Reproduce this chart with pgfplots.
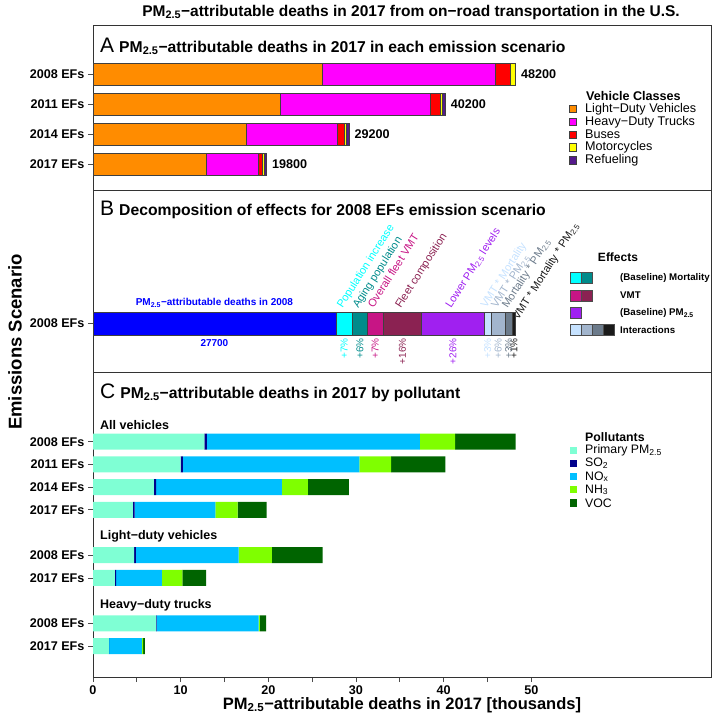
\documentclass[border=0pt]{standalone}
\usepackage{pgfplots}
\pgfplotsset{compat=1.18}
\usepackage{fontspec}
\setmainfont{Liberation Sans}
% panel A
\definecolor{cLDV}{HTML}{FF8C00}
\definecolor{cHDT}{HTML}{FF00FF}
\definecolor{cBus}{HTML}{FF0000}
\definecolor{cMoto}{HTML}{FFFF00}
\definecolor{cRef}{HTML}{551A8B}
% panel B
\definecolor{bBase}{HTML}{0000FF}
\definecolor{bPop}{HTML}{00FFFF}
\definecolor{bAge}{HTML}{008B8B}
\definecolor{bVMT}{HTML}{C71585}
\definecolor{bFleet}{HTML}{8B2252}
\definecolor{bPM}{HTML}{A020F0}
\definecolor{bI1}{HTML}{C6E2FF}
\definecolor{bI2}{HTML}{A2B5CD}
\definecolor{bI3}{HTML}{6C7B8B}
\definecolor{bI4}{HTML}{1A1A1A}
% panel C
\definecolor{pPrim}{HTML}{7FFFD4}
\definecolor{pSO}{HTML}{00008B}
\definecolor{pNO}{HTML}{00BFFF}
\definecolor{pNH}{HTML}{7FFF00}
\definecolor{pVOC}{HTML}{006400}
\newcommand{\fs}[1]{\fontsize{#1}{#1}\selectfont}
\tikzset{
  rl/.style={rotate=57.5, anchor=base west, inner sep=0pt, font=\fs{11}, text=#1},
  pl/.style={rotate=90, anchor=east, inner sep=0pt, font=\fs{10}, text=#1},
}
\begin{document}
\begin{tikzpicture}[x=1pt,y=1pt]
\useasboundingbox (0,0) rectangle (718,-716);
\pgfplotsset{
  myax/.style={
    scale only axis, width=618pt, xmin=0, xmax=70.5,
    y dir=reverse, anchor=north west,
    axis line style={black!80, line width=1pt},
    tick style={black!70, line width=0.8pt},
    tick align=outside, major tick length=5pt,
    ytick pos=left, xtick pos=bottom,
    yticklabel style={font=\fs{12.6}\bfseries},
    xticklabel style={font=\fs{12.6}\bfseries},
    /pgf/number format/assume math mode=true,
    xbar stacked,
    clip=false,
  },
  segA/.style={fill=#1, draw=black!75, line width=0.5pt},
  segC/.style={fill=#1, draw=none},
}
% ---------------- Panel A ----------------
\begin{axis}[myax, at={(93pt,-25pt)}, height=165pt, ymin=0, ymax=165,
  xtick=\empty, ytick={49,79,109,139},
  yticklabels={2008 EFs,2011 EFs,2014 EFs,2017 EFs}, bar width=22pt]
\addplot[segA=cLDV] coordinates {(26.2,49) (21.4,79) (17.5,109) (12.9,139)};
\addplot[segA=cHDT] coordinates {(19.7,49) (17.1,79) (10.4,109) (5.9,139)};
\addplot[segA=cBus] coordinates {(1.7,49) (1.1,79) (0.8,109) (0.5,139)};
\addplot[segA=cMoto] coordinates {(0.55,49) (0.25,79) (0.2,109) (0.2,139)};
\addplot[segA=cRef] coordinates {(0.05,49) (0.35,79) (0.3,109) (0.3,139)};
\node[anchor=west, font=\fs{12.6}\bfseries, xshift=2pt] at (axis cs:48.2,49) {48200};
\node[anchor=west, font=\fs{12.6}\bfseries, xshift=2pt] at (axis cs:40.2,79) {40200};
\node[anchor=west, font=\fs{12.6}\bfseries, xshift=2pt] at (axis cs:29.2,109) {29200};
\node[anchor=west, font=\fs{12.6}\bfseries, xshift=2pt] at (axis cs:19.8,139) {19800};
\end{axis}
% ---------------- Panel B ----------------
\begin{axis}[myax, at={(93pt,-190pt)}, height=182pt, ymin=0, ymax=182,
  xtick=\empty, ytick={133.5}, yticklabels={2008 EFs}, bar width=23pt]
\addplot[segA=bBase] coordinates {(27.7,133.5)};
\addplot[segA=bPop] coordinates {(1.9,133.5)};
\addplot[segA=bAge] coordinates {(1.7,133.5)};
\addplot[segA=bVMT] coordinates {(1.8,133.5)};
\addplot[segA=bFleet] coordinates {(4.4,133.5)};
\addplot[segA=bPM] coordinates {(7.1,133.5)};
\addplot[segA=bI1] coordinates {(0.85,133.5)};
\addplot[segA=bI2] coordinates {(1.55,133.5)};
\addplot[segA=bI3] coordinates {(0.85,133.5)};
\addplot[segA=bI4] coordinates {(0.35,133.5)};
\node[font=\fs{10}\bfseries, text=bBase] at (axis cs:13.85,113) {PM\textsubscript{2.5}−attributable deaths in 2008};
\node[font=\fs{10}\bfseries, text=bBase] at (axis cs:13.85,153) {27700};
\node[rl=bPop] at (axis cs:28.45,119) {Population increase};
\node[rl=bAge] at (axis cs:30.25,119) {Aging population};
\node[rl=bVMT] at (axis cs:32.0,119) {Overall fleet VMT};
\node[rl=bFleet] at (axis cs:35.1,119) {Fleet composition};
\node[rl=bPM] at (axis cs:40.85,119) {Lower PM\textsubscript{2.5} levels};
\node[rl=bI1] at (axis cs:44.85,119) {VMT * Mortality};
\node[rl=bI2] at (axis cs:46.05,119) {VMT * PM\textsubscript{2.5}};
\node[rl=bI3] at (axis cs:47.3,119) {Mortality * PM\textsubscript{2.5}};
\node[rl=bI4] at (axis cs:48.5,131) {VMT * Mortality * PM\textsubscript{2.5}};
\node[pl=bPop] at (axis cs:28.65,148) {+7\%};
\node[pl=bAge] at (axis cs:30.45,148) {+6\%};
\node[pl=bVMT] at (axis cs:32.2,148) {+7\%};
\node[pl=bFleet] at (axis cs:35.3,148) {+16\%};
\node[pl=bPM] at (axis cs:41.05,148) {+26\%};
\node[pl=bI1] at (axis cs:45.03,148) {+3\%};
\node[pl=bI2] at (axis cs:46.23,148) {+6\%};
\node[pl=bI3] at (axis cs:47.43,148) {+3\%};
\node[pl=bI4] at (axis cs:48.03,148) {+1\%};
\end{axis}
% ---------------- Panel C ----------------
\begin{axis}[myax, at={(93pt,-372pt)}, height=305pt, ymin=0, ymax=305,
  xtick={0,5,...,50}, xticklabels={0,,10,,20,,30,,40,,50},
  ytick={69.7,92.4,115.1,137.8,183.2,205.9,251.3,274.0},
  yticklabels={2008 EFs,2011 EFs,2014 EFs,2017 EFs,2008 EFs,2017 EFs,2008 EFs,2017 EFs},
  bar width=16pt,
  xlabel={PM\textsubscript{2.5}−attributable deaths in 2017 [thousands]},
  xlabel style={font=\fs{16.5}\bfseries, yshift=4pt}]
\addplot[segC=pPrim] coordinates {(12.7,69.7) (10.0,92.4) (6.95,115.1) (4.55,137.8) (4.7,183.2) (2.5,205.9) (7.2,251.3) (1.8,274.0)};
\addplot[segC=pSO] coordinates {(0.3,69.7) (0.25,92.4) (0.25,115.1) (0.2,137.8) (0.2,183.2) (0.15,205.9) (0.05,251.3) (0.03,274.0)};
\addplot[segC=pNO] coordinates {(24.3,69.7) (20.15,92.4) (14.35,115.1) (9.2,137.8) (11.7,183.2) (5.2,205.9) (11.65,251.3) (3.75,274.0)};
\addplot[segC=pNH] coordinates {(4.0,69.7) (3.6,92.4) (2.95,115.1) (2.55,137.8) (3.8,183.2) (2.35,205.9) (0.15,251.3) (0.15,274.0)};
\addplot[segC=pVOC] coordinates {(6.9,69.7) (6.2,92.4) (4.7,115.1) (3.3,137.8) (5.8,183.2) (2.7,205.9) (0.7,251.3) (0.2,274.0)};
\end{axis}
% ---------------- Titles ----------------
\node[anchor=center, font=\fs{15.5}\bfseries] at (411,-12) {PM\textsubscript{2.5}−attributable deaths in 2017 from on−road transportation in the U.S.};
\node[anchor=base west, inner sep=0pt] at (100,-52) {{\fs{21}A}\hspace{5pt}{\fs{15.7}\bfseries PM\textsubscript{2.5}−attributable deaths in 2017 in each emission scenario}};
\node[anchor=base west, inner sep=0pt] at (100,-215) {{\fs{21}B}\hspace{5pt}{\fs{15.7}\bfseries Decomposition of effects for 2008 EFs emission scenario}};
\node[anchor=base west, inner sep=0pt] at (100,-398) {{\fs{21}C}\hspace{5pt}{\fs{15.7}\bfseries PM\textsubscript{2.5}−attributable deaths in 2017 by pollutant}};
\node[rotate=90, font=\fs{18.5}\bfseries] at (15,-342) {Emissions Scenario};
% group labels
\begin{scope}[every node/.style={anchor=west, inner sep=0pt, font=\fs{12.5}\bfseries}]
\node at (100,-425) {All vehicles};
\node at (100,-536.7) {Light−duty vehicles};
\node at (100,-605) {Heavy−duty trucks};
\end{scope}
% ---------------- Legend A ----------------
\node[anchor=west, inner sep=0pt, font=\fs{12.6}\bfseries] at (586,-96) {Vehicle Classes};
\foreach \c/\t [count=\i from 0] in {cLDV/Light−Duty Vehicles, cHDT/Heavy−Duty Trucks, cBus/Buses, cMoto/Motorcycles, cRef/Refueling}{
  \pgfmathsetmacro{\yy}{-109-12.8*\i}
  \draw[fill=\c, draw=black!75, line width=0.5pt] (569.3,\yy-3.7) rectangle (576.7,\yy+3.7);
  \node[anchor=west, inner sep=0pt, font=\fs{12.6}] at (585,\yy) {\t};
}
% ---------------- Legend B ----------------
\node[font=\fs{12}\bfseries] at (618,-257) {Effects};
\begin{scope}[every path/.style={draw=black!70, line width=0.5pt}]
\draw[fill=bPop] (570.7,-272.5) rectangle (581.7,-283.5);
\draw[fill=bAge] (581.7,-272.5) rectangle (592.7,-283.5);
\draw[fill=bVMT] (570.7,-290) rectangle (581.7,-301);
\draw[fill=bFleet] (581.7,-290) rectangle (592.7,-301);
\draw[fill=bPM] (570.7,-307.5) rectangle (581.7,-318.5);
\draw[fill=bI1] (570.7,-324.5) rectangle (581.7,-335.5);
\draw[fill=bI2] (581.7,-324.5) rectangle (592.7,-335.5);
\draw[fill=bI3] (592.7,-324.5) rectangle (603.7,-335.5);
\draw[fill=bI4] (603.7,-324.5) rectangle (614.7,-335.5);
\end{scope}
\begin{scope}[every node/.style={anchor=west, inner sep=0pt, font=\fs{9.7}\bfseries}]
\node at (620,-278) {(Baseline) Mortality};
\node at (620,-295.5) {VMT};
\node at (620,-313) {(Baseline) PM\textsubscript{2.5}};
\node at (620,-330) {Interactions};
\end{scope}
% ---------------- Legend C ----------------
\node[anchor=west, inner sep=0pt, font=\fs{12.3}\bfseries] at (585,-437) {Pollutants};
\foreach \c/\t [count=\i from 0] in {pPrim/{Primary PM\textsubscript{2.5}}, pSO/{SO\textsubscript{2}}, pNO/{NO\textsubscript{x}}, pNH/{NH\textsubscript{3}}, pVOC/VOC}{
  \pgfmathsetmacro{\yy}{-450.5-13.1*\i}
  \fill[\c] (570,\yy-3.6) rectangle (577.3,\yy+3.6);
  \node[anchor=west, inner sep=0pt, font=\fs{12.3}] at (585,\yy) {\t};
}
\end{tikzpicture}
\end{document}
